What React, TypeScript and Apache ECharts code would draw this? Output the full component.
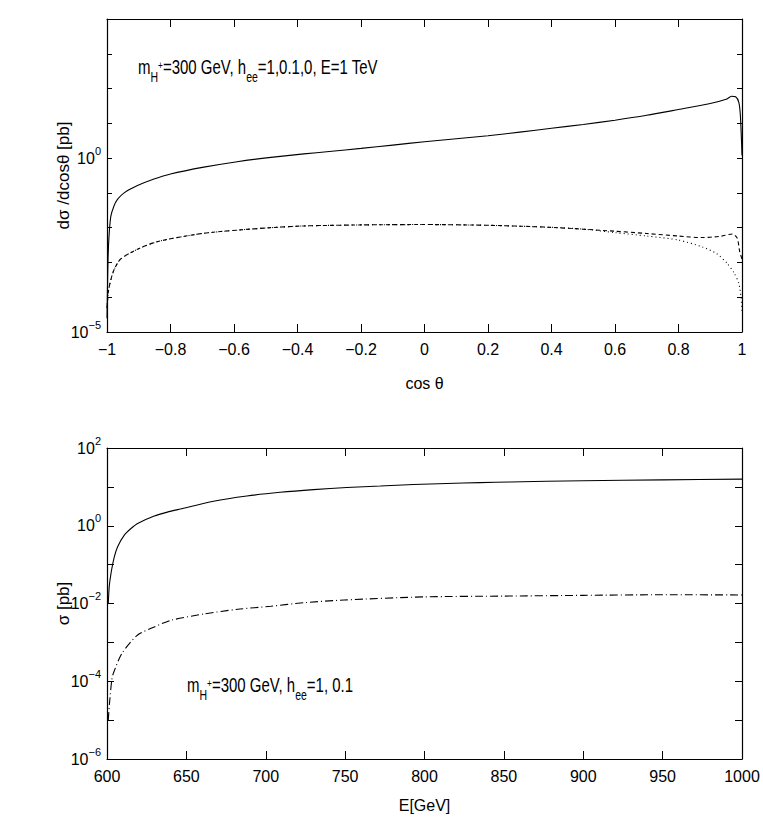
import React, { useEffect, useRef } from "react";
import * as echarts from "echarts";

// ---------- Top panel: dσ/dcosθ vs cosθ (E = 1 TeV) ----------
const cosTheta_h1 = [-1.0, -0.997, -0.994, -0.988, -0.978, -0.967, -0.946, -0.904, -0.852, -0.8, -0.695, -0.59, -0.484, -0.38, -0.3, -0.2, -0.1, 0, 0.1, 0.2, 0.3, 0.4, 0.5, 0.6, 0.7, 0.8, 0.9, 0.95, 0.967, 0.98, 0.99, 0.995, 1.0];
const dsig_h1 = [2.5e-5, 1e-3, 5e-3, 0.021, 0.042, 0.065, 0.1, 0.162, 0.25, 0.35, 0.55, 0.79, 1.05, 1.32, 1.55, 1.9, 2.37, 2.95, 3.6, 4.4, 5.6, 7.2, 9.3, 12.3, 17, 25, 37, 49, 60, 58, 40, 16, 1.2];

const cosTheta_h01 = [-1.0, -0.995, -0.985, -0.975, -0.957, -0.904, -0.852, -0.8, -0.695, -0.59, -0.484, -0.38, -0.2, 0, 0.2, 0.4, 0.6, 0.7, 0.8, 0.87, 0.93, 0.97, 0.985, 0.993, 1.0];
const dsig_h01 = [5e-5, 1.6e-4, 4e-4, 7e-4, 1.26e-3, 2.4e-3, 3.7e-3, 4.8e-3, 6.9e-3, 8.5e-3, 0.01, 0.0112, 0.012, 0.0123, 0.0117, 0.0102, 7.9e-3, 6.8e-3, 5.75e-3, 5.2e-3, 5.6e-3, 6.6e-3, 5e-3, 2e-3, 1.26e-3];

const cosTheta_h0 = [-1.0, -0.995, -0.985, -0.975, -0.957, -0.904, -0.852, -0.8, -0.695, -0.59, -0.484, -0.38, -0.2, 0, 0.2, 0.4, 0.5, 0.6, 0.7, 0.8, 0.877, 0.92, 0.953, 0.975, 0.99, 0.997, 1.0];
const dsig_h0 = [5e-5, 1.6e-4, 4e-4, 7e-4, 1.26e-3, 2.4e-3, 3.7e-3, 4.8e-3, 6.9e-3, 8.5e-3, 0.01, 0.0112, 0.012, 0.0123, 0.0117, 0.0102, 9.1e-3, 7.2e-3, 5.75e-3, 4.4e-3, 2.75e-3, 1.8e-3, 9.5e-4, 5e-4, 2.5e-4, 1e-4, 4e-5];

// ---------- Bottom panel: σ vs E ----------
const energy_h1 = [600.8, 601.4, 602.5, 604.6, 606.7, 610.9, 615.1, 619.3, 629.8, 638, 646.1, 667.1, 688.1, 709.1, 730.1, 751.1, 772.1, 793, 814, 835, 854, 900, 950, 1000];
const sigma_h1 = [0.01, 0.027, 0.059, 0.158, 0.29, 0.575, 0.85, 1.15, 1.78, 2.24, 2.69, 4.27, 5.83, 7.26, 8.51, 9.6, 10.5, 11.5, 12.2, 12.9, 13.4, 14.4, 15.1, 15.8];

const energy_h01 = [600.8, 601.5, 603, 604, 609.4, 619.3, 629.8, 640.3, 661.3, 682.3, 703.3, 724.2, 749.4, 800, 850, 900, 950, 1000];
const sigma_h01 = [1e-5, 2.5e-5, 1.07e-4, 1.6e-4, 5.2e-4, 1.55e-3, 2.5e-3, 3.7e-3, 5.4e-3, 7.1e-3, 8.5e-3, 0.0105, 0.0123, 0.0148, 0.0155, 0.0162, 0.0168, 0.0166];

// tick settings
const topXTicks = { min: -1, max: 1, interval: 0.2 };
const botXTicks = { min: 600, max: 1000, interval: 50 };
const topYRange = { min: 1e-5, max: 1e4, decades: 9 };
const botYRange = { min: 1e-6, max: 1e2, decades: 8 };
const topYLabelExps = [-5, 0];
const botYLabelExps = [-6, -4, -2, 0, 2];

const SANS = "'Liberation Sans', Arial, Helvetica, sans-serif";

const pairs = (xs: number[], ys: number[]) => xs.map((x, i) => [x, ys[i]]);
const minus = (s: string) => s.replace("-", "\u2212");

export default function App() {
  const ref = useRef<HTMLDivElement>(null);
  useEffect(() => {
    if (!ref.current) return;
    const chart = echarts.init(ref.current, undefined, { renderer: "svg" });

    const expRich = {
      b: { fontSize: 16, lineHeight: 26, verticalAlign: "middle", fontFamily: SANS, color: "#000" },
      s: { fontSize: 11, lineHeight: 11, verticalAlign: "top", fontFamily: SANS, color: "#000" },
    };
    const yLabelFmt = (allowed: number[]) => (v: number) => {
      const e = Math.round(Math.log10(v));
      return allowed.includes(e) ? `{b|10}{s|${minus(String(e))}}` : "";
    };
    const xLabelFmt = (v: number) => minus(String(Math.round(v * 10) / 10));

    const axisLine = { show: true, onZero: false, lineStyle: { color: "#000", width: 1.2 } };
    const xAx = (grid: number, t: any, name: string, nameGap: number) => [
      {
        type: "value", gridIndex: grid, min: t.min, max: t.max, interval: t.interval, position: "bottom",
        axisLine, splitLine: { show: false },
        axisTick: { inside: true, length: 8, lineStyle: { color: "#000", width: 1 } },
        axisLabel: { formatter: xLabelFmt, fontSize: 16, fontFamily: SANS, color: "#000", margin: 9 },
        name, nameLocation: "middle", nameGap, nameMoveOverlap: false,
        nameTextStyle: { fontSize: 16, fontFamily: SANS, color: "#000" },
      },
      {
        type: "value", gridIndex: grid, min: t.min, max: t.max, interval: t.interval, position: "top",
        axisLine, splitLine: { show: false },
        axisTick: { inside: true, length: 8, lineStyle: { color: "#000", width: 1 } },
        axisLabel: { show: false },
      },
    ];
    const yAx = (grid: number, r: any, exps: number[], name: string, tickLen: number) => [
      {
        type: "log", logBase: 10, gridIndex: grid, min: r.min, max: r.max, splitNumber: r.decades, position: "left",
        axisLine, splitLine: { show: false }, minorTick: { show: false },
        axisTick: { inside: true, length: tickLen, lineStyle: { color: "#000", width: 1 } },
        axisLabel: { formatter: yLabelFmt(exps), rich: expRich, margin: 6, showMinLabel: true, showMaxLabel: true },
        name, nameLocation: "middle", nameGap: 35, nameRotate: 90, nameMoveOverlap: false,
        nameTextStyle: { fontSize: 17, fontFamily: SANS, color: "#000" },
      },
      {
        type: "log", logBase: 10, gridIndex: grid, min: r.min, max: r.max, splitNumber: r.decades, position: "right",
        axisLine, splitLine: { show: false },
        axisTick: { inside: true, length: tickLen, lineStyle: { color: "#000", width: 1 } },
        axisLabel: { show: false },
      },
    ];

    const line = (xi: number, yi: number, data: any[], type: any) => ({
      type: "line", xAxisIndex: xi, yAxisIndex: yi, data, showSymbol: false, symbol: "none",
      smooth: 0.25,
      lineStyle: { color: "#000", width: 1.1, type },
      silent: true,
    });

    const annRich = {
      n: { fontSize: 20, lineHeight: 34, verticalAlign: "middle", fontFamily: SANS, fill: "#000" },
      sub: { fontSize: 14, lineHeight: 14, verticalAlign: "bottom", fontFamily: SANS, fill: "#000" },
      sup: { fontSize: 11, lineHeight: 11, verticalAlign: "middle", fontFamily: SANS, fill: "#000", padding: [0, 0, 4, 0] },
    };

    chart.setOption({
      animation: false,
      backgroundColor: "#fff",
      grid: [
        { left: 107, top: 19, width: 635, height: 313 },
        { left: 107, top: 448, width: 635, height: 311 },
      ],
      xAxis: [...xAx(0, topXTicks, "cos \u03b8", 43), ...xAx(1, botXTicks, "E[GeV]", 38)],
      yAxis: [...yAx(0, topYRange, topYLabelExps, "d\u03c3 /dcos\u03b8 [pb]", 5), ...yAx(1, botYRange, botYLabelExps, "\u03c3 [pb]", 7)],
      series: [
        line(0, 0, pairs(cosTheta_h1, dsig_h1), "solid"),
        line(0, 0, pairs(cosTheta_h01, dsig_h01), [4, 3]),
        line(0, 0, pairs(cosTheta_h0, dsig_h0), [1, 3]),
        line(2, 2, pairs(energy_h1, sigma_h1), "solid"),
        line(2, 2, pairs(energy_h01, sigma_h01), [8, 3, 1, 3]),
      ],
      graphic: [
        {
          type: "text", x: 138, y: 50, scaleX: 0.75,
          style: { text: "{n|m}{sub|H}{sup|+}{n|=300 GeV, h}{sub|ee}{n|=1,0.1,0, E=1 TeV}", rich: annRich, fill: "#000" },
        },
        {
          type: "text", x: 187, y: 668, scaleX: 0.75,
          style: { text: "{n|m}{sub|H}{sup|+}{n|=300 GeV, h}{sub|ee}{n|=1, 0.1}", rich: annRich, fill: "#000" },
        },
      ],
    });
    return () => chart.dispose();
  }, []);
  return <div ref={ref} style={{ position: "fixed", left: 0, top: 0, width: 763, height: 817, background: "#fff" }} />;
}
